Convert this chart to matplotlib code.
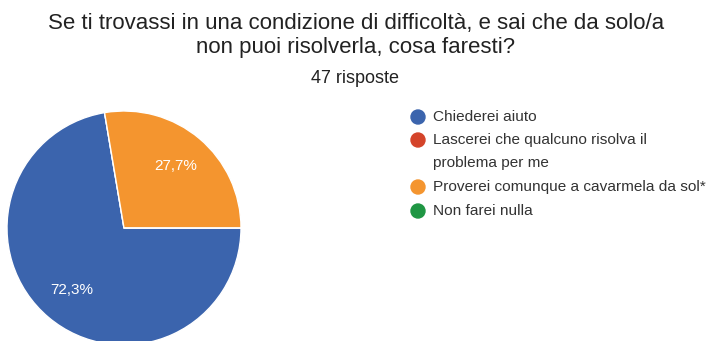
import matplotlib.pyplot as plt
from matplotlib.patches import Circle

plt.rcParams['font.family'] = ['Liberation Sans', 'DejaVu Sans']

title_lines = ["Se ti trovassi in una condizione di difficoltà, e sai che da solo/a",
               "non puoi risolverla, cosa faresti?"]
subtitle = "47 risposte"
answers = ["Chiederei aiuto",
           "Lascerei che qualcuno risolva il\nproblema per me",
           "Proverei comunque a cavarmela da sol*",
           "Non farei nulla"]
counts = [34, 0, 13, 0]
colors = ["#3b64ad", "#d4442a", "#f4952f", "#1f9643"]

W, H = 710, 341
fig = plt.figure(figsize=(W / 100, H / 100), dpi=100)
ax = fig.add_axes([0, 0, 1, 1])

def pct(p):
    if p < 0.05:
        return ""
    return f"{p:.1f}%".replace(".", ",")

wedges, texts, autotexts = ax.pie(
    counts, colors=colors, startangle=0, counterclock=False,
    center=(124, H - 228), radius=117, autopct=pct, pctdistance=0.69,
    wedgeprops=dict(edgecolor="white", linewidth=1),
    textprops=dict(color="white", fontsize=11))

ax.set_xlim(0, W)
ax.set_ylim(0, H)
ax.set_aspect("equal")
ax.axis("off")

# title block (baselines in pixels from the top)
for y, line in zip([29, 53], title_lines):
    ax.text(356, H - y, line, ha="center", va="baseline", fontsize=16,
            color="#222222")
ax.text(355, H - 83, subtitle, ha="center", va="baseline", fontsize=13,
        color="#222222")

# legend on the right
ys = [117, 140, 187, 211]
for y, lab, c in zip(ys, answers, colors):
    ax.add_patch(Circle((418, H - y), 7, color=c))
    for k, part in enumerate(lab.split("\n")):
        ax.text(433, H - y - 23 * k, part, ha="left", va="center",
                fontsize=11.1, color="#333333")

fig.savefig("out.png", dpi=100)
